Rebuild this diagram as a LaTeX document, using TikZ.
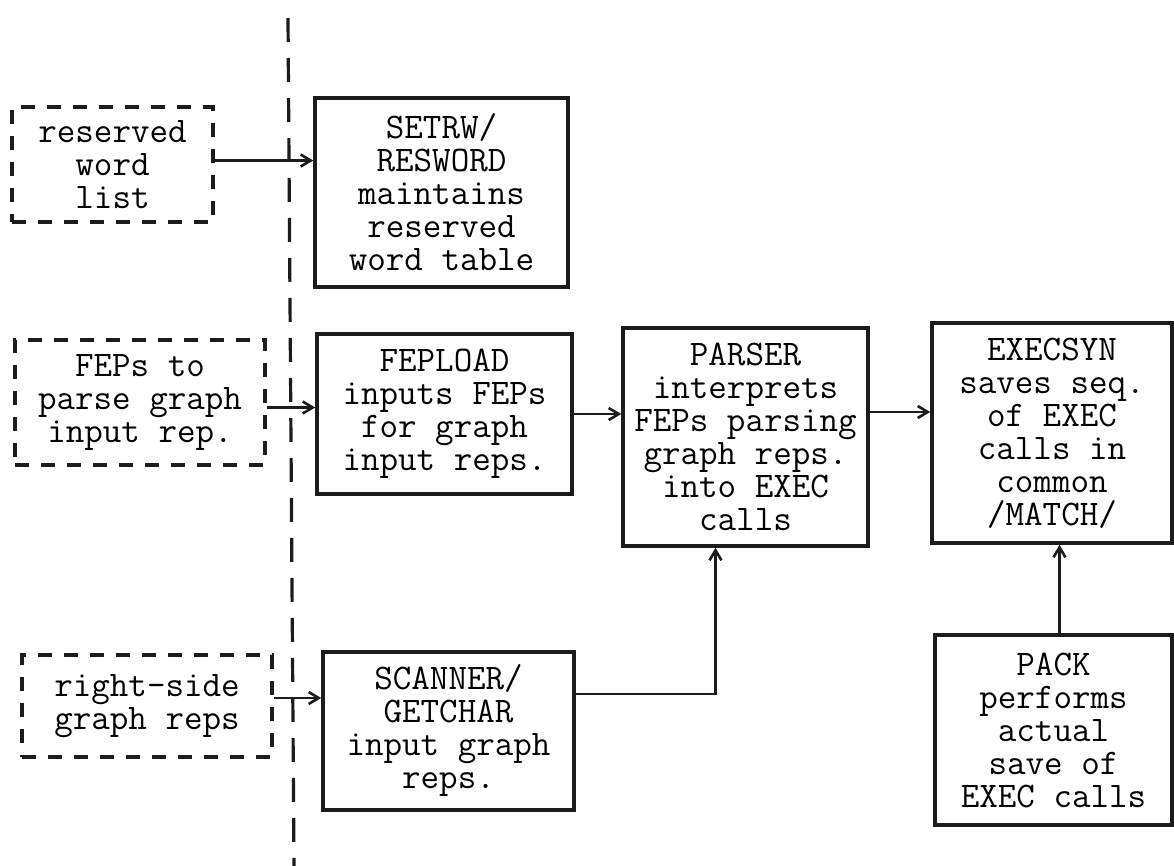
\documentclass[tikz,border=0pt]{standalone}
\usetikzlibrary{arrows.meta}
\definecolor{Ink}{HTML}{1C1C1C}

\begin{document}
\begin{tikzpicture}[x=0.5pt,y=-0.5pt,
    proc/.style={draw=Ink,line width=1.8pt,inner sep=0pt,align=center,
      font=\ttfamily\fontsize{18}{16.5}\selectfont},
    ext/.style={proc,dash pattern=on 7pt off 6pt},
    flow/.style={draw=Ink,line width=1.3pt,-{Straight Barb[length=5pt,width=6pt]}}]
        \useasboundingbox (0,0) rectangle (1174,866);
        % boundary between outside input and the program
        \draw[Ink,line width=1.6pt,dash pattern=on 12pt off 8pt] (288,18) -- (294,866);
        % outside inputs
        \node[ext,minimum width=100.5pt,minimum height=57.5pt] (resw) at (112.5,164.5) {reserved\\word\\list};
        \node[ext,minimum width=125pt,minimum height=62.5pt] (feps) at (140,402.5) {FEPs to\\parse graph\\input rep.};
        \node[ext,minimum width=125pt,minimum height=51pt] (rside) at (147,706) {right-side\\graph reps};
        % routines
        \node[proc,minimum width=126.5pt,minimum height=94.5pt] (setrw) at (441.5,192.5) {SETRW/\\RESWORD\\maintains\\reserved\\word table};
        \node[proc,minimum width=127.5pt,minimum height=80pt] (fepload) at (444.5,414) {FEPLOAD\\inputs FEPs\\for graph\\input reps.};
        \node[proc,minimum width=125.5pt,minimum height=79pt] (scanner) at (448.5,731) {SCANNER/\\GETCHAR\\input graph\\reps.};
        \node[proc,minimum width=122.5pt,minimum height=109pt] (parser) at (745.5,437) {PARSER\\interprets\\FEPs parsing\\graph reps.\\into EXEC\\calls};
        \node[proc,minimum width=120pt,minimum height=110pt] (execsyn) at (1052,433) {EXECSYN\\saves seq.\\of EXEC\\calls in\\common\\/MATCH/};
        \node[proc,minimum width=118.5pt,minimum height=95pt] (pack) at (1053.5,730) {PACK\\performs\\actual\\save of\\EXEC calls};
        % data flow
        \draw[flow] ([yshift=2pt]resw.east) -- ([yshift=2pt]resw.east -| setrw.west);
        \draw[flow] ([yshift=-2.5pt]feps.east) -- ([yshift=-2.5pt]feps.east -| fepload.west);
        \draw[flow] (fepload.east) -- (fepload.east -| parser.west);
        \draw[flow] ([yshift=4pt]rside.east) -- ([yshift=4pt]rside.east -| scanner.west);
        \draw[flow] ([yshift=18.5pt]scanner.east) -| ([xshift=-15pt]parser.south);
        \draw[flow] ([yshift=12.5pt]parser.east) -- ([yshift=12.5pt]parser.east -| execsyn.west);
        \draw[flow] ([xshift=3pt]pack.north) -- ([xshift=3pt]pack.north |- execsyn.south);
      \end{tikzpicture}
\end{document}
